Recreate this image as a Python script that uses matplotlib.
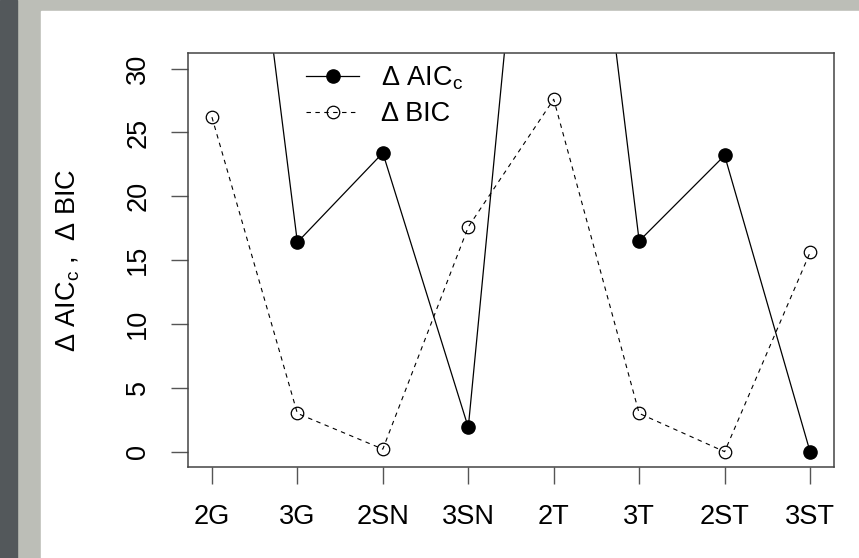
import matplotlib
matplotlib.use("Agg")
import matplotlib.pyplot as plt
from matplotlib.patches import Rectangle

plt.rcParams['font.family'] = ['Liberation Sans', 'DejaVu Sans']
plt.rcParams['mathtext.fontset'] = 'custom'
plt.rcParams['mathtext.rm'] = 'Liberation Sans'
plt.rcParams['mathtext.it'] = 'Liberation Sans:italic'

# model labels and the two criteria (values above 30 run off the top)
models = ['2G', '3G', '2SN', '3SN', '2T', '3T', '2ST', '3ST']
delta_aicc = [69.7, 16.4, 23.4, 1.9, 71.3, 16.5, 23.2, 0.0]
delta_bic = [26.2, 3.0, 0.2, 17.6, 27.6, 3.0, 0.0, 15.6]
yticks = [0, 5, 10, 15, 20, 25, 30]

FS = 19.5
W, H = 859, 558
fig = plt.figure(figsize=(W / 100, H / 100), dpi=100, facecolor='white')

# slide-like gray frame on the left and top
fig.patches.append(Rectangle((17 / W, 0), 1, 1, transform=fig.transFigure,
                             color='#bcbeb7', zorder=-3))
fig.patches.append(Rectangle((40.5 / W, 0), 1, (H - 11) / H, transform=fig.transFigure,
                             color='white', zorder=-2))
fig.patches.append(Rectangle((0, 0), 17 / W, 1, transform=fig.transFigure,
                             color='#53585b', zorder=-1))

ax = fig.add_axes([188 / W, (H - 467) / H, (834 - 188) / W, (467 - 53.3) / H])
x = list(range(1, len(models) + 1))

ax.plot(x, delta_aicc, '-o', color='black', lw=0.9, ms=9.5,
        label='Δ AIC$_\\mathrm{c}$')
ax.plot(x, delta_bic, linestyle=(0, (4, 4)), marker='o', color='black', lw=0.8,
        ms=9, mfc='none', mew=0.9, label='Δ BIC')

ax.set_xlim(0.72, 8.28)
ax.set_ylim(-1.2, 31.2)
ax.set_xticks(x)
ax.set_xticklabels(models, fontsize=FS)
ax.set_yticks(yticks)
ax.set_yticklabels([str(v) for v in yticks], fontsize=FS, rotation=90, va='center')
ax.tick_params(axis='x', length=12.5, width=1, color='#555555', pad=14.5)
ax.tick_params(axis='y', length=12.5, width=1, color='#555555', pad=14)
for s in ax.spines.values():
    s.set_color('#444444')
    s.set_linewidth(1.1)

fig.text(68 / W, 1 - 260 / H, 'Δ AIC$_\\mathrm{c}$ ,  Δ BIC', rotation=90,
         ha='center', va='center', fontsize=FS)

ax.legend(loc='upper left', bbox_to_anchor=((295 - 188) / (834 - 188), 1.0),
          frameon=False, fontsize=FS, handlelength=1.96, handletextpad=0.8,
          labelspacing=0.34, borderpad=0.42, borderaxespad=0)

fig.savefig('out.png', dpi=100, facecolor=fig.get_facecolor())
